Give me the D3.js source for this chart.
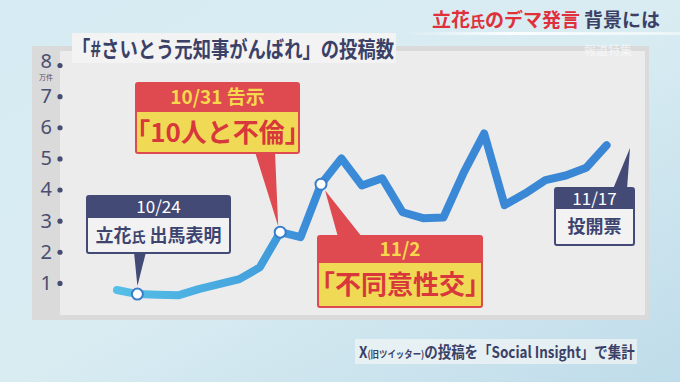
<!DOCTYPE html>
<html>
<head>
<meta charset="utf-8">
<script src="https://cdn.jsdelivr.net/npm/d3@7"></script>
<style>
  body { margin: 0; background: #cfe4ee; }
  svg { display: block; font-family: "Noto Sans CJK JP", "Noto Sans", sans-serif; }
</style>
</head>
<body>
<div id="chart"></div>
<script>
// daily posts (万件), 10/23 - 11/16
const dates = ['10/23','10/24','10/25','10/26','10/27','10/28','10/29','10/30','10/31',
    '11/1','11/2','11/3','11/4','11/5','11/6','11/7','11/8','11/9','11/10','11/11',
    '11/12','11/13','11/14','11/15','11/16'];
const posts = [0.77, 0.64, 0.62, 0.6, 0.8, 0.96, 1.12, 1.5, 2.63,
    2.47, 4.17, 5.0, 4.13, 4.36, 3.27, 3.08, 3.1, 4.55, 5.8, 3.5,
    3.87, 4.3, 4.45, 4.7, 5.42];
const axisDates = dates.concat(['11/17']);
const yTicks = [1, 2, 3, 4, 5, 6, 7, 8];
const markedDates = ['10/24', '10/31', '11/2'];

const title = '「#さいとう元知事がんばれ」の投稿数';

const W = 680, H = 382;
const navy = '#434a76', red = '#de4a4f', yellow = '#f0da55';

const svg = d3.select('#chart').append('svg')
    .attr('width', W)
    .attr('height', H);

const defs = svg.append('defs');
const bg = defs.append('linearGradient').attr('id', 'bg')
    .attr('x1', 0).attr('y1', 0).attr('x2', 1).attr('y2', 1);
bg.append('stop').attr('offset', '0%').attr('stop-color', '#d6ebf3');
bg.append('stop').attr('offset', '50%').attr('stop-color', '#d9ecf2');
bg.append('stop').attr('offset', '100%').attr('stop-color', '#bfdcea');

svg.append('rect').attr('width', W).attr('height', H).attr('fill', 'url(#bg)');

// top right heading
const head = svg.append('text')
    .attr('x', 432).attr('y', 27)
    .attr('font-size', 19).attr('font-weight', 'bold');
head.append('tspan').attr('fill', '#e0303c').text('立花');
head.append('tspan').attr('fill', '#e0303c').attr('font-size', 15).text('氏');
head.append('tspan').attr('fill', '#e0303c').text('のデマ発言');
head.append('tspan').attr('fill', '#3b4166').attr('dx', 4).text('背景には');

const hl = defs.append('linearGradient').attr('id', 'hl');
hl.append('stop').attr('offset', '0%').attr('stop-color', '#fff').attr('stop-opacity', 0);
hl.append('stop').attr('offset', '40%').attr('stop-color', '#fff').attr('stop-opacity', 0.9);
hl.append('stop').attr('offset', '100%').attr('stop-color', '#fff').attr('stop-opacity', 0.5);
svg.append('rect').attr('x', 400).attr('y', 32).attr('width', 280).attr('height', 3)
    .attr('fill', 'url(#hl)');

// panel
svg.append('rect').attr('x', 32).attr('y', 46).attr('width', 617).attr('height', 274)
    .attr('fill', '#dadada');
svg.append('rect').attr('x', 60).attr('y', 51).attr('width', 585).attr('height', 264)
    .attr('fill', '#ececec');

svg.append('text')
    .attr('x', 608).attr('y', 55)
    .attr('font-size', 12).attr('fill', '#ffffff').attr('opacity', 0.6)
    .attr('text-anchor', 'middle')
    .text('報道特集');

// title box
svg.append('rect').attr('x', 72).attr('y', 33).attr('width', 324).attr('height', 30)
    .attr('fill', '#f3f3f3');
svg.append('text')
    .attr('x', 72).attr('y', 57)
    .attr('font-size', 22).attr('font-weight', 'bold').attr('fill', '#3b4166')
    .attr('textLength', 322).attr('lengthAdjust', 'spacingAndGlyphs')
    .text(title);

// scales
const x = d3.scalePoint().domain(axisDates).range([117, 627]);
const y = d3.scaleLinear().domain([0, 8]).range([314, 65]);

// y axis
const yAxis = d3.axisLeft(y)
    .tickValues(yTicks)
    .tickSize(0)
    .tickPadding(8)
    .tickFormat(d3.format('d'));

const yAxisG = svg.append('g')
    .attr('transform', 'translate(60,0)')
    .call(yAxis);
yAxisG.select('.domain').remove();
yAxisG.selectAll('.tick text')
    .attr('font-size', 20)
    .attr('font-family', '"Noto Sans", sans-serif')
    .attr('fill', '#4a4f70');
yAxisG.selectAll('.tick').filter(d => d === 8).select('text')
    .attr('dy', '0.1em');
yAxisG.selectAll('.tick').append('circle')
    .attr('r', 2.6)
    .attr('fill', '#474d70');

svg.append('text')
    .attr('x', 46).attr('y', y(8) + 15)
    .attr('font-size', 7).attr('fill', '#4a4f70')
    .attr('text-anchor', 'middle')
    .text('万件');

// line
const lg = defs.append('linearGradient').attr('id', 'lineGrad')
    .attr('gradientUnits', 'userSpaceOnUse')
    .attr('x1', x('10/23')).attr('x2', x('11/16')).attr('y1', 0).attr('y2', 0);
lg.append('stop').attr('offset', '0%').attr('stop-color', '#55bfe7');
lg.append('stop').attr('offset', '28%').attr('stop-color', '#44a2dd');
lg.append('stop').attr('offset', '40%').attr('stop-color', '#3a8bd8');
lg.append('stop').attr('offset', '100%').attr('stop-color', '#3a86d4');

const series = dates.map((d, i) => ({date: d, value: posts[i]}));

const line = d3.line()
    .x(d => x(d.date))
    .y(d => y(d.value));

svg.append('path')
    .datum(series)
    .attr('d', line)
    .attr('fill', 'none')
    .attr('stroke', 'url(#lineGrad)')
    .attr('stroke-width', 8)
    .attr('stroke-linecap', 'round')
    .attr('stroke-linejoin', 'round');

// callouts
function callout(opt) {
    const g = svg.append('g');
    const headColor = opt.dark ? navy : red;
    const bodyColor = opt.dark ? '#f2f2f2' : yellow;
    const headText = opt.dark ? '#ffffff' : '#f6d84c';
    const bodyText = opt.dark ? '#3d4470' : '#d8383c';

    g.append('path')
        .attr('d', `M${opt.base[0]},${opt.base[1]}L${opt.base[2]},${opt.base[3]}L${opt.tip[0]},${opt.tip[1]}Z`)
        .attr('fill', headColor);

    g.append('rect')
        .attr('x', opt.x).attr('y', opt.y)
        .attr('width', opt.w).attr('height', opt.h)
        .attr('rx', 2)
        .attr('fill', bodyColor)
        .attr('stroke', headColor)
        .attr('stroke-width', 2);
    g.append('rect')
        .attr('x', opt.x).attr('y', opt.y)
        .attr('width', opt.w).attr('height', opt.hh)
        .attr('fill', headColor);

    g.append('text')
        .attr('x', opt.x + opt.w / 2).attr('y', opt.y + opt.hh / 2)
        .attr('dy', '0.36em')
        .attr('text-anchor', 'middle')
        .attr('font-size', opt.hs)
        .attr('font-weight', opt.dark ? 'normal' : 'bold')
        .attr('fill', headText)
        .text(opt.head);

    const bt = g.append('text')
        .attr('x', opt.x + opt.w / 2).attr('y', opt.y + (opt.h + opt.hh) / 2)
        .attr('dy', '0.36em')
        .attr('text-anchor', 'middle')
        .attr('font-size', opt.bs)
        .attr('font-weight', 'bold')
        .attr('fill', bodyText);
    opt.body.forEach(part => {
        bt.append('tspan').attr('font-size', part[1] || opt.bs).text(part[0]);
    });
}

callout({
    dark: true, x: 87, y: 196, w: 143, h: 57, hh: 22,
    head: '10/24', hs: 17, bs: 18,
    body: [['立花'], ['氏', 14], [' 出馬表明']],
    base: [134, 252, 146, 252],
    tip: [x('10/24'), y(posts[dates.indexOf('10/24')]) - 8]
});
callout({
    dark: false, x: 136, y: 83, w: 163, h: 70, hh: 29,
    head: '10/31 告示', hs: 19, bs: 26,
    body: [['「10人と不倫」']],
    base: [255, 152, 275, 152],
    tip: [x('10/31') - 2, y(posts[dates.indexOf('10/31')]) - 6]
});
callout({
    dark: false, x: 318, y: 236, w: 164, h: 71, hh: 27,
    head: '11/2', hs: 19, bs: 26,
    body: [['「不同意性交」']],
    base: [338, 237, 362, 237],
    tip: [x('11/2') + 4, y(posts[dates.indexOf('11/2')]) + 6]
});
callout({
    dark: true, x: 555, y: 188, w: 79, h: 57, hh: 21,
    head: '11/17', hs: 17, bs: 18,
    body: [['投開票']],
    base: [613, 189, 627, 189],
    tip: [x('11/17') + 3, 148]
});

// markers
svg.selectAll('.marker')
    .data(series.filter(d => markedDates.includes(d.date)))
    .enter().append('circle')
    .attr('class', 'marker')
    .attr('cx', d => x(d.date))
    .attr('cy', d => y(d.value))
    .attr('r', 5.5)
    .attr('fill', '#ffffff')
    .attr('stroke', '#3a7fca')
    .attr('stroke-width', 2);

// source note, squeezed horizontally like the condensed caption font
svg.append('rect').attr('x', 355).attr('y', 339).attr('width', 282).attr('height', 25)
    .attr('fill', '#eef2f4').attr('opacity', 0.8);
const srcG = svg.append('g');
const src = srcG.append('text')
    .attr('x', 0).attr('y', 0)
    .attr('font-size', 16).attr('font-weight', 'bold').attr('fill', '#3b4166');
src.append('tspan').text('X');
src.append('tspan').attr('font-size', 10).text('(旧ツイッター)');
src.append('tspan').text('の投稿を「Social Insight」で集計');
const srcW = src.node().getComputedTextLength();
srcG.attr('transform', `translate(359,358) scale(${276 / srcW},1)`);
</script>
</body>
</html>
